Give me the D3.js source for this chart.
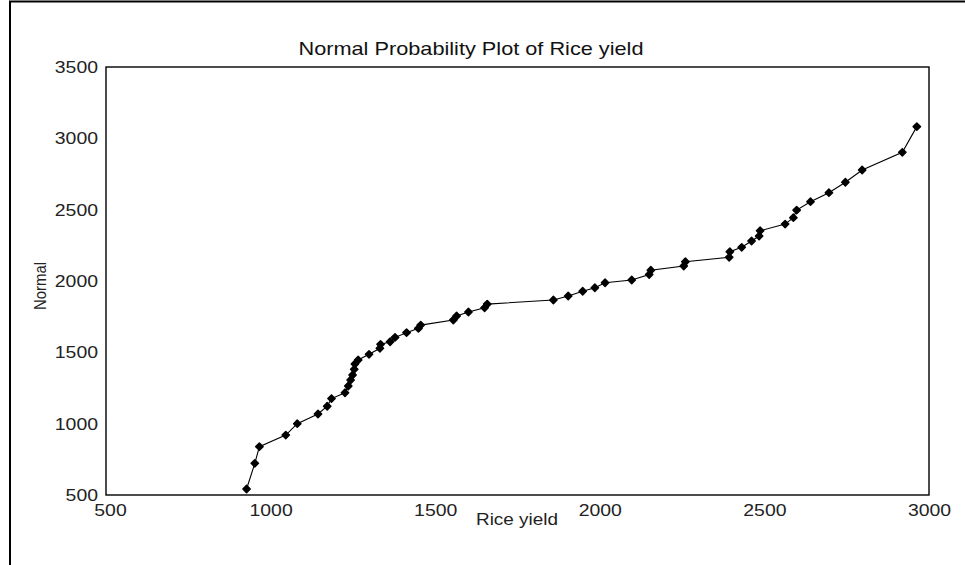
<!DOCTYPE html>
<html>
<head>
<meta charset="utf-8">
<script src="https://cdn.jsdelivr.net/npm/d3@7"></script>
<style>
  body { margin: 0; background: #fff; }
  svg { display: block; font-family: "Liberation Sans", Arial, sans-serif; }
</style>
</head>
<body>
<svg id="chart" width="965" height="565"></svg>
<script>
// Rice yield observations (sorted) and their normal scores
const riceYield = [927, 952, 966, 1046, 1081, 1144, 1172, 1185, 1226, 1236, 1243, 1249, 1254, 1256,
  1266, 1299, 1332, 1334, 1363, 1378, 1413, 1449, 1456, 1555, 1565, 1601, 1650, 1658,
  1859, 1904, 1948, 1985, 2016, 2097, 2150, 2155, 2255, 2260, 2393, 2395, 2431, 2461,
  2484, 2487, 2563, 2588, 2598, 2640, 2696, 2746, 2797, 2919, 2963];
const normalScore = [542, 722, 839, 920, 1000, 1068, 1122, 1176, 1217, 1264, 1306, 1341, 1381, 1418,
  1446, 1486, 1528, 1556, 1574, 1605, 1638, 1668, 1691, 1727, 1755, 1783, 1812, 1838,
  1867, 1895, 1928, 1953, 1988, 2007, 2045, 2075, 2105, 2135, 2166, 2205, 2236, 2280,
  2315, 2352, 2399, 2444, 2497, 2556, 2619, 2692, 2778, 2902, 3082];
const xTicks = [500, 1000, 1500, 2000, 2500, 3000];
const yTicks = [500, 1000, 1500, 2000, 2500, 3000, 3500];

const svg = d3.select("#chart");
const plot = { left: 106, top: 67, right: 929, bottom: 495 };

const x = d3.scaleLinear().domain([500, 3000]).range([plot.left, plot.right]);
const y = d3.scaleLinear().domain([500, 3500]).range([plot.bottom, plot.top]);

// outer frame
svg.append("rect")
  .attr("x", 10).attr("y", 1.5).attr("width", 990).attr("height", 600)
  .attr("fill", "none").attr("stroke", "#000").attr("stroke-width", 2);

// plot frame
svg.append("rect")
  .attr("x", plot.left).attr("y", plot.top)
  .attr("width", plot.right - plot.left).attr("height", plot.bottom - plot.top)
  .attr("fill", "none").attr("stroke", "#000").attr("stroke-width", 1.4);

// slightly wide lettering
const digitW = 10.8;
function styleLabels(g) {
  g.select(".domain").remove();
  g.selectAll("text")
    .attr("font-size", 17).attr("fill", "#222")
    .attr("font-family", "'Liberation Sans', Arial, sans-serif")
    .attr("lengthAdjust", "spacingAndGlyphs")
    .attr("textLength", function () { return this.textContent.length * digitW; });
}

const xAxis = svg.append("g")
  .attr("transform", `translate(0,${plot.bottom})`)
  .call(d3.axisBottom(x).tickValues(xTicks).tickSize(0).tickPadding(9).tickFormat(d3.format("d")))
  .call(styleLabels);
xAxis.selectAll("text").attr("dx", (d, i) => i === 0 ? 4 : 0);

const yAxis = svg.append("g")
  .attr("transform", `translate(${plot.left},0)`)
  .call(d3.axisLeft(y).tickValues(yTicks).tickSize(0).tickPadding(8).tickFormat(d3.format("d")))
  .call(styleLabels);

// title and axis titles
svg.append("text")
  .attr("x", 471).attr("y", 55).attr("text-anchor", "middle")
  .attr("font-size", 19).attr("fill", "#111")
  .attr("lengthAdjust", "spacingAndGlyphs").attr("textLength", 345)
  .text("Normal Probability Plot of Rice yield");
svg.append("text")
  .attr("x", 517).attr("y", 525).attr("text-anchor", "middle")
  .attr("font-size", 17).attr("fill", "#222")
  .attr("lengthAdjust", "spacingAndGlyphs").attr("textLength", 82)
  .text("Rice yield");
svg.append("text")
  .attr("transform", "translate(46,286) rotate(-90)")
  .attr("text-anchor", "middle")
  .attr("font-size", 17).attr("fill", "#222")
  .attr("lengthAdjust", "spacingAndGlyphs").attr("textLength", 48)
  .text("Normal");

// connecting line
const pts = riceYield.map((v, i) => [v, normalScore[i]]);
svg.append("path")
  .datum(pts)
  .attr("fill", "none").attr("stroke", "#000").attr("stroke-width", 1.1)
  .attr("d", d3.line().x(d => x(d[0])).y(d => y(d[1])));

// markers
svg.append("g").selectAll("path")
  .data(pts)
  .join("path")
  .attr("transform", d => `translate(${x(d[0])},${y(d[1])})`)
  .attr("d", d3.symbol().type(d3.symbolDiamond2).size(34))
  .attr("fill", "#000").attr("stroke", "#000").attr("stroke-width", 1.5)
  .attr("stroke-linejoin", "round");
</script>
</body>
</html>
